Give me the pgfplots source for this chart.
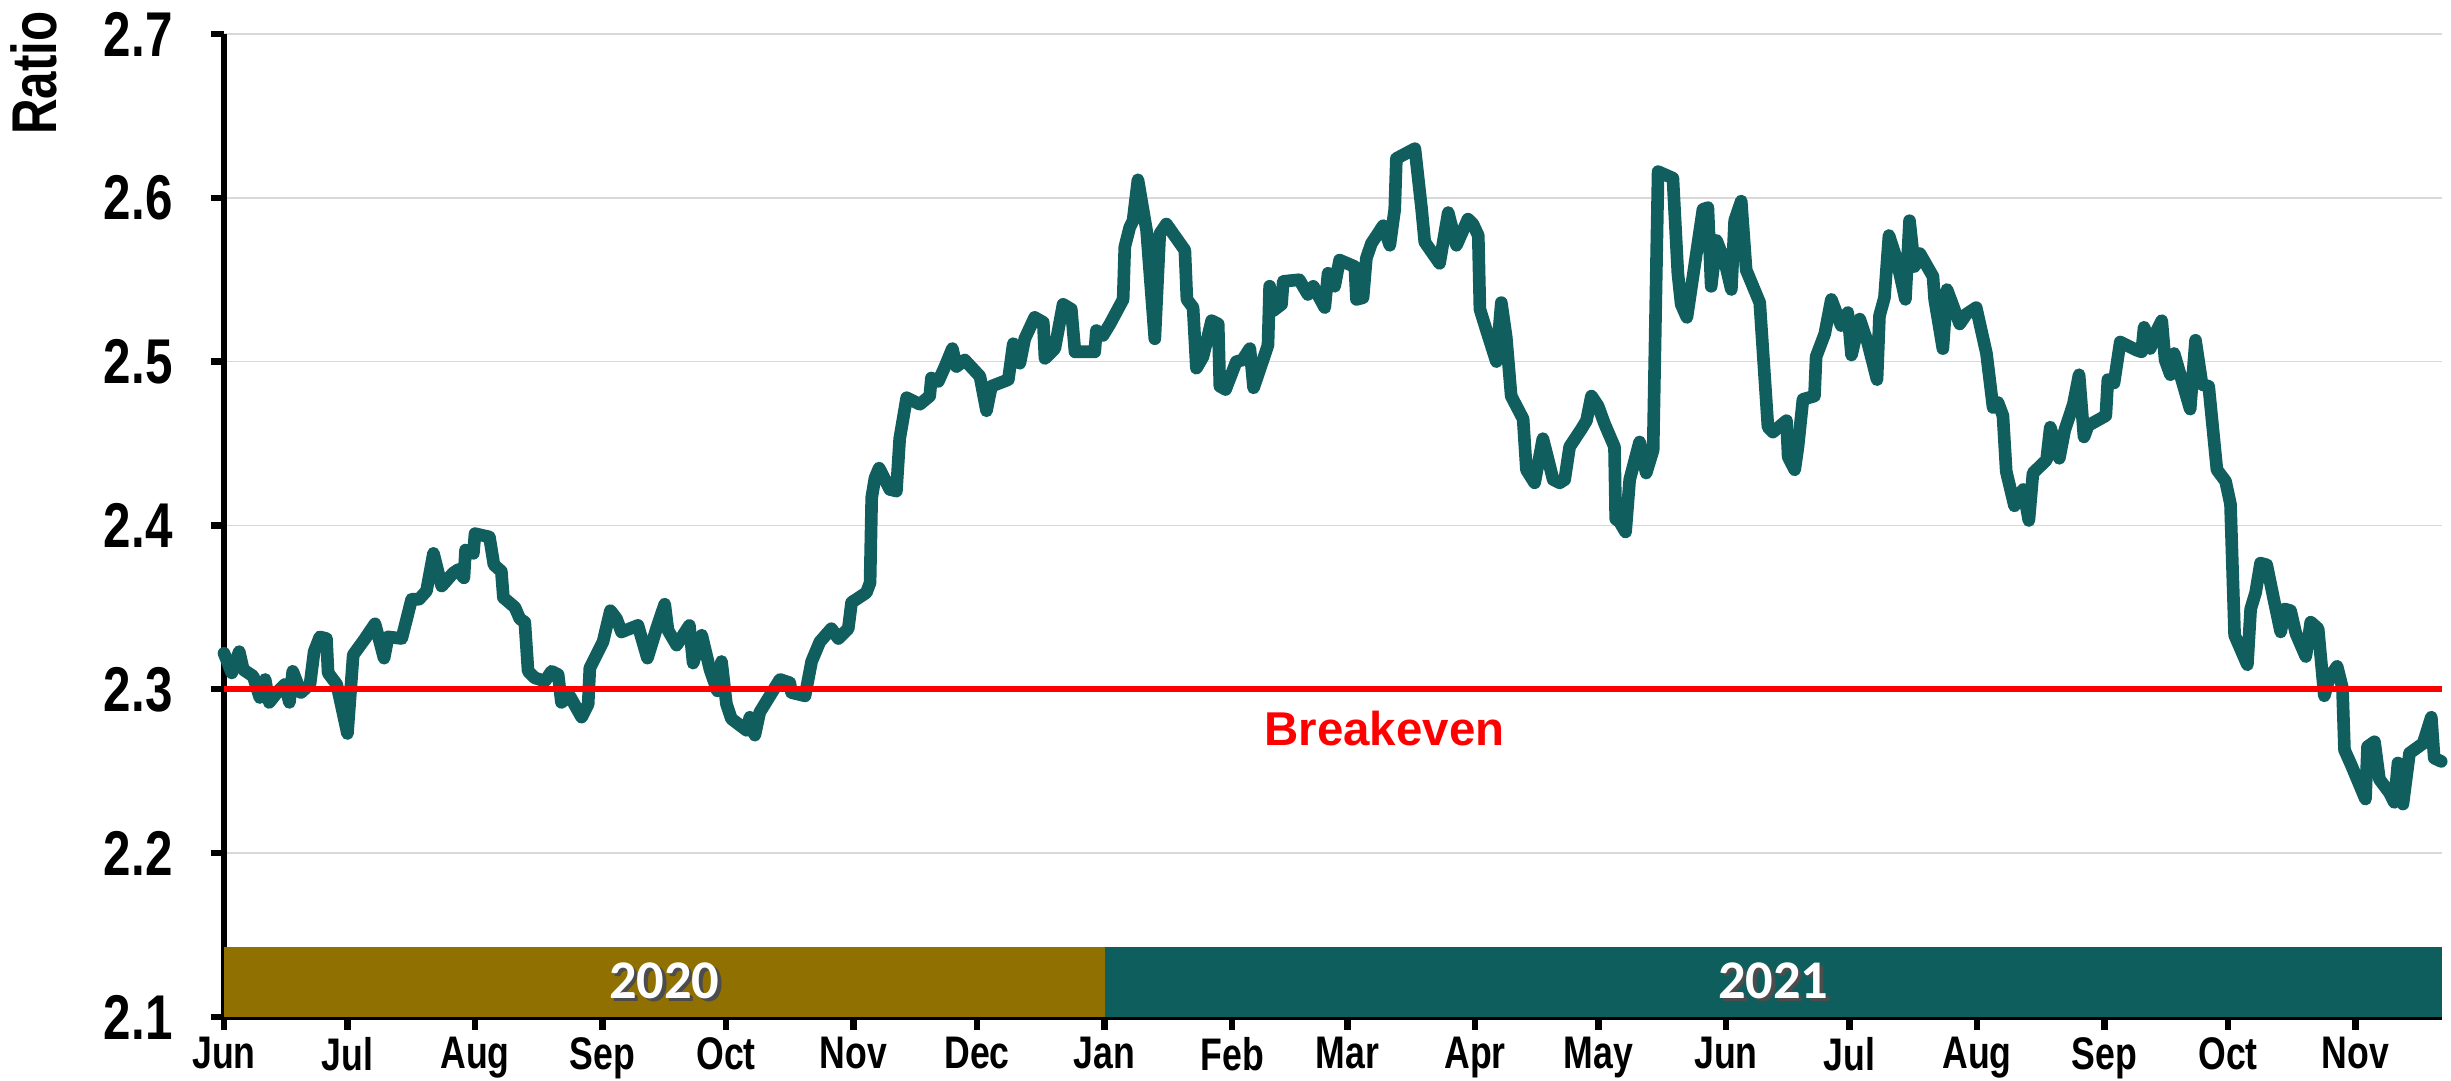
\documentclass[border=0pt]{standalone}
\usepackage{fontspec}
\setmainfont{Liberation Sans}
\newfontfamily\narrowfont[FakeStretch=0.78]{Liberation Sans}
\newfontfamily\yearfont{Carlito}
\usepackage{pgfplots}
\usepackage{pgfplotstable}
\pgfplotsset{compat=1.18}
\usetikzlibrary{calc}
\definecolor{ratioTeal}{RGB}{16,94,94}
\definecolor{band20}{RGB}{143,112,0}
\definecolor{band21}{RGB}{15,94,94}
\definecolor{gridGray}{RGB}{217,217,217}

% day 0 = 1 Jun 2020
\pgfplotstableread{
day ratio
0 2.322
1.9 2.310
3.7 2.323
4.7 2.312
7.1 2.308
8.7 2.295
10.0 2.306
11.0 2.292
13.2 2.299
14.8 2.303
15.9 2.292
16.7 2.311
18.7 2.298
20.9 2.303
21.9 2.323
23.3 2.332
24.9 2.331
25.3 2.310
27.4 2.303
30.0 2.273
31.4 2.321
34.3 2.331
36.7 2.340
38.9 2.319
39.9 2.332
43.2 2.331
45.6 2.355
47.4 2.355
49.2 2.360
50.9 2.383
52.9 2.363
55.7 2.371
56.9 2.373
58.3 2.368
58.7 2.385
60.6 2.383
61.0 2.395
64.5 2.393
65.6 2.376
67.4 2.372
67.9 2.356
70.7 2.350
71.9 2.343
73.1 2.341
73.9 2.311
75.5 2.307
78.0 2.305
79.6 2.311
81.2 2.309
82.0 2.292
84.0 2.296
86.9 2.283
88.5 2.291
88.9 2.313
92.1 2.329
93.9 2.348
95.4 2.343
96.6 2.335
100.6 2.339
102.9 2.319
105.1 2.337
107.1 2.352
107.9 2.336
110.0 2.327
113.1 2.339
114.0 2.316
116.1 2.333
118.1 2.312
119.9 2.299
120.9 2.317
122.1 2.291
123.3 2.282
127.0 2.275
127.8 2.283
129.0 2.272
130.2 2.286
135.1 2.306
137.5 2.304
137.9 2.298
141.2 2.296
142.8 2.317
144.8 2.329
147.6 2.337
149.3 2.331
151.7 2.337
152.5 2.353
156.1 2.359
157.0 2.365
157.4 2.417
158.2 2.429
159.2 2.435
161.8 2.422
163.4 2.421
164.2 2.453
165.9 2.478
169.1 2.474
171.5 2.479
171.9 2.490
173.6 2.488
175.2 2.497
177.0 2.508
178.0 2.497
180.0 2.501
183.7 2.491
185.3 2.470
186.5 2.485
190.6 2.489
191.8 2.511
193.4 2.499
194.6 2.514
197.0 2.527
199.1 2.524
199.5 2.502
201.9 2.508
203.9 2.535
205.9 2.532
206.8 2.506
211.6 2.506
212.0 2.519
213.6 2.516
215.3 2.523
218.5 2.538
218.9 2.570
220.1 2.582
220.9 2.586
222.1 2.611
224.2 2.580
226.2 2.514
227.4 2.578
229.0 2.584
233.5 2.568
234.0 2.538
235.5 2.533
236.3 2.496
237.9 2.503
240.0 2.525
241.6 2.523
242.0 2.485
243.4 2.483
246.0 2.500
247.5 2.501
249.3 2.508
250.2 2.484
253.7 2.510
254.1 2.546
254.9 2.531
257.0 2.535
257.4 2.549
261.3 2.550
263.4 2.541
264.7 2.546
267.5 2.533
268.3 2.554
269.9 2.546
271.1 2.562
274.8 2.558
275.2 2.538
276.8 2.539
277.6 2.563
278.8 2.572
281.7 2.583
283.3 2.571
284.5 2.593
284.9 2.624
289.4 2.630
291.0 2.594
291.8 2.573
295.4 2.560
297.5 2.591
299.5 2.571
302.3 2.587
303.5 2.584
304.8 2.577
305.2 2.532
306.8 2.519
309.2 2.500
310.4 2.536
311.6 2.515
312.8 2.479
315.7 2.465
316.5 2.434
318.5 2.426
320.5 2.453
323.0 2.428
324.6 2.426
325.8 2.428
327.0 2.448
329.9 2.459
331.1 2.464
332.3 2.479
333.9 2.473
335.5 2.462
337.9 2.448
338.2 2.404
339.2 2.402
340.6 2.396
341.6 2.428
344.0 2.451
345.6 2.432
347.3 2.446
348.5 2.616
352.1 2.612
353.3 2.554
354.1 2.535
355.5 2.527
359.4 2.593
360.6 2.594
361.4 2.546
362.7 2.574
364.7 2.561
366.3 2.544
367.1 2.586
368.7 2.598
369.9 2.556
373.2 2.536
375.2 2.460
376.4 2.457
379.7 2.464
380.1 2.442
381.7 2.434
382.5 2.448
383.7 2.477
386.5 2.479
386.9 2.503
389.0 2.517
390.6 2.538
393.0 2.522
394.6 2.530
395.5 2.504
397.5 2.526
399.5 2.511
401.7 2.489
402.3 2.528
403.5 2.539
404.6 2.577
406.4 2.563
408.6 2.538
409.6 2.586
410.8 2.558
412.1 2.566
415.3 2.552
415.7 2.538
417.7 2.508
418.7 2.544
421.8 2.523
423.4 2.529
425.8 2.533
428.3 2.505
429.9 2.472
431.1 2.475
432.3 2.467
433.1 2.433
435.1 2.412
437.2 2.422
438.6 2.403
439.6 2.432
442.9 2.440
443.8 2.460
446.0 2.441
447.3 2.458
449.4 2.474
450.8 2.492
452.0 2.454
453.0 2.461
457.3 2.467
457.8 2.489
459.3 2.487
460.8 2.512
464.8 2.507
466.0 2.506
466.6 2.521
468.1 2.508
469.7 2.519
470.9 2.525
471.7 2.501
473.0 2.492
473.9 2.505
477.8 2.471
479.1 2.513
480.7 2.486
482.3 2.485
484.3 2.434
486.4 2.427
487.6 2.413
488.6 2.333
491.7 2.315
492.5 2.349
493.7 2.359
494.9 2.377
496.4 2.376
498.2 2.354
499.8 2.335
500.8 2.349
502.2 2.348
503.5 2.334
505.9 2.320
507.1 2.341
508.9 2.337
510.4 2.296
511.6 2.307
513.5 2.314
514.8 2.301
515.3 2.263
516.9 2.254
520.4 2.233
520.9 2.265
522.6 2.268
523.8 2.245
526.2 2.237
527.4 2.231
528.3 2.255
529.5 2.230
531.1 2.261
534.4 2.267
536.4 2.283
537.1 2.258
538.8 2.256
}\ratiodata

\begin{document}
\begin{tikzpicture}
\begin{axis}[
  scale only axis,
  width=22.18cm, height=9.83cm,
  xmin=0, xmax=539,
  ymin=2.1, ymax=2.7,
  clip=false,
  axis x line*=bottom, axis y line*=left,
  axis line style={line width=1.8pt,black},
  xtick={0,30,61,92,122,153,183,214,245,273,304,334,365,395,426,457,487,518},
  xticklabels={Jun,Jul,Aug,Sep,Oct,Nov,Dec,Jan,Feb,Mar,Apr,May,Jun,Jul,Aug,Sep,Oct,Nov},
  ytick={2.1,2.2,2.3,2.4,2.5,2.6,2.7},
  tick align=outside,
  major tick length=1.3mm,
  tick style={line width=1.8pt,black},
  ymajorgrids, grid style={gridGray,line width=0.4pt},
  yticklabel style={font=\narrowfont\fontsize{18}{20}\selectfont\bfseries, xshift=-2.6mm,
    /pgf/number format/.cd, fixed, fixed zerofill, precision=1, assume math mode=true},
  xticklabel style={font=\narrowfont\fontsize{13}{15}\selectfont\bfseries, yshift=0.5mm},
]
\coordinate (bl) at (rel axis cs:0,0);
\coordinate (tr) at (rel axis cs:1,1);

% year bands along the bottom
\addplot[fill=band20, draw=none] coordinates {(0,2.1425) (214,2.1425)} \closedcycle;
\addplot[fill=band21, draw=none] coordinates {(214,2.1425) (539,2.1425)} \closedcycle;

\addplot[ratioTeal, line width=3.6pt, line join=round, line cap=round] table[x=day,y=ratio] {\ratiodata};

% breakeven
\addplot[red, line width=1.8pt] coordinates {(0,2.3) (539,2.3)};

\node[font=\fontsize{13.5}{15}\selectfont\bfseries, text=red] at (axis cs:282,2.2763) {Breakeven};

\node[font=\yearfont\fontsize{15.5}{17}\selectfont\bfseries, text=black!70, xshift=0.35mm, yshift=-0.35mm] at (axis cs:107,2.1222) {2020};
\node[font=\yearfont\fontsize{15.5}{17}\selectfont\bfseries, text=white] at (axis cs:107,2.1222) {2020};
\node[font=\yearfont\fontsize{15.5}{17}\selectfont\bfseries, text=black!70, xshift=0.35mm, yshift=-0.35mm] at (axis cs:376.5,2.1222) {2021};
\node[font=\yearfont\fontsize{15.5}{17}\selectfont\bfseries, text=white] at (axis cs:376.5,2.1222) {2021};

\node[font=\narrowfont\fontsize{18}{20}\selectfont\bfseries, rotate=90] at (rel axis cs:-0.0857,0.9603) {Ratio};
\end{axis}
\pgfresetboundingbox
\path ($(bl)+(-2.24cm,-0.64cm)$) rectangle ($(tr)+(0.09cm,0.34cm)$);
\end{tikzpicture}
\end{document}
